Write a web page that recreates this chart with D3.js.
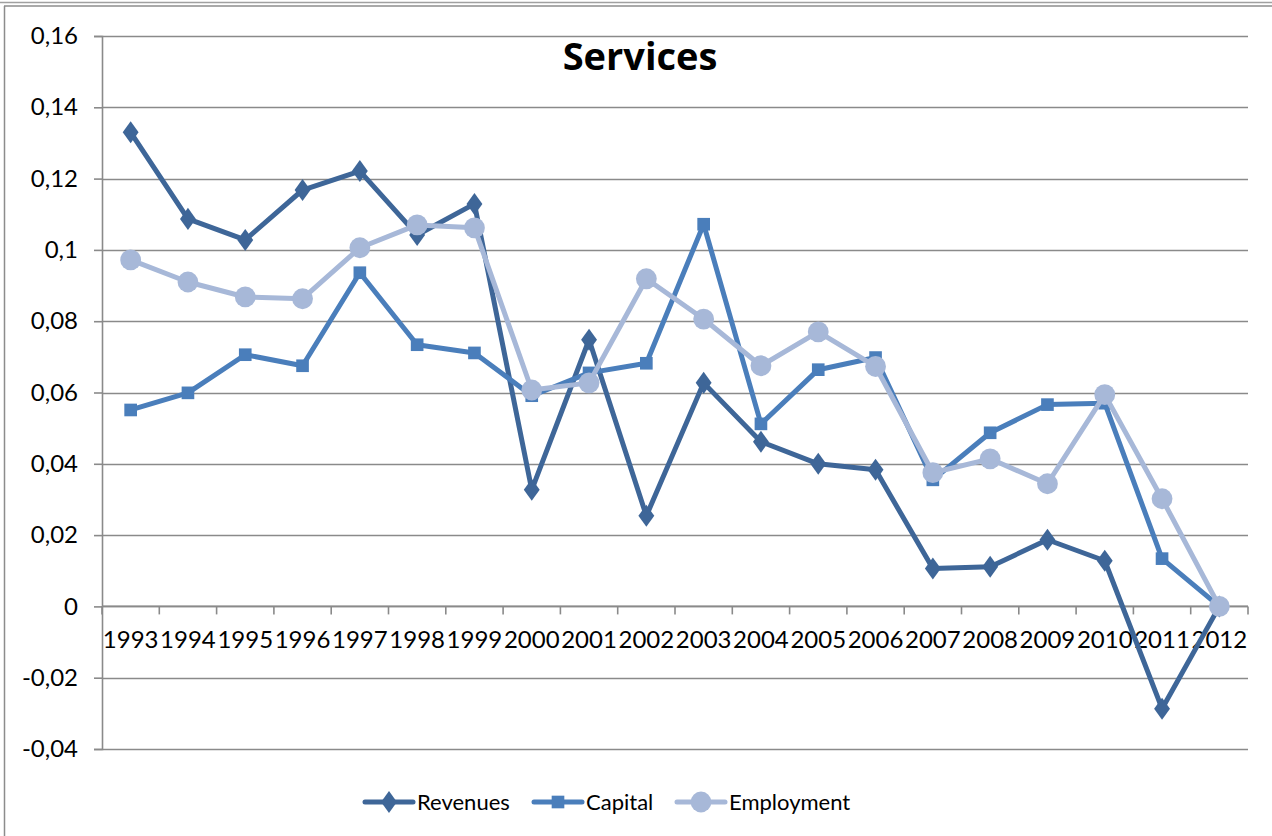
<!DOCTYPE html>
<html>
<head>
<meta charset="utf-8">
<script src="https://cdn.jsdelivr.net/npm/d3@7"></script>
<style>
  html, body { margin: 0; padding: 0; background: #fff; }
  svg { display: block; font-family: Lato, "Open Sans", sans-serif; }
</style>
</head>
<body>
<svg id="chart" width="1272" height="836"></svg>
<script>
// Yearly growth rates for the services sector
const years = ["1993","1994","1995","1996","1997","1998","1999","2000","2001","2002",
               "2003","2004","2005","2006","2007","2008","2009","2010","2011","2012"];
const revenues = [0.133, 0.1087, 0.1028, 0.1168, 0.1221, 0.1042, 0.1129, 0.0327, 0.0748, 0.0254,
                  0.0627, 0.0462, 0.0400, 0.0383, 0.0106, 0.0111, 0.0187, 0.0128, -0.0287, 0.0];
const capital = [0.0551, 0.0599, 0.0706, 0.0675, 0.0936, 0.0734, 0.0711, 0.0591, 0.0655, 0.0682,
                 0.1072, 0.0512, 0.0664, 0.0698, 0.0355, 0.0487, 0.0566, 0.0570, 0.0134, 0.0];
const employment = [0.0972, 0.0910, 0.0868, 0.0863, 0.1006, 0.1070, 0.1062, 0.0607, 0.0627, 0.0919,
                    0.0806, 0.0675, 0.0770, 0.0673, 0.0375, 0.0414, 0.0344, 0.0594, 0.0302, 0.0];
const yTicks = [-0.04, -0.02, 0, 0.02, 0.04, 0.06, 0.08, 0.10, 0.12, 0.14, 0.16];
const seriesNames = ["Revenues", "Capital", "Employment"];

const colors = { Revenues: "#3E6698", Capital: "#4A7EBB", Employment: "#A7B8D8" };

const svg = d3.select("#chart");
const W = 1272, H = 836;
const plot = { left: 102, right: 1248, top: 36, bottom: 749 };

// chart frame
svg.append("line").attr("x1", 0).attr("x2", W).attr("y1", 2.5).attr("y2", 2.5)
  .attr("stroke", "#a0a0a0").attr("stroke-width", 1.5);
svg.append("line").attr("x1", 4).attr("x2", W).attr("y1", 6).attr("y2", 6)
  .attr("stroke", "#8c8c8c").attr("stroke-width", 1.5);
svg.append("line").attr("x1", 4.5).attr("x2", 4.5).attr("y1", 6).attr("y2", H)
  .attr("stroke", "#8c8c8c").attr("stroke-width", 1.5);

const x = d3.scaleBand().domain(years).range([plot.left, plot.right]).padding(0);
const y = d3.scaleLinear().domain([-0.04, 0.16]).range([plot.bottom, plot.top]);

// decimal comma, plain hyphen for negatives, trailing zero dropped
const fmt = v => {
  if (Math.abs(v) < 1e-9) return "0";
  let s = Math.abs(v).toFixed(2).replace(/0$/, "").replace(".", ",");
  return (v < 0 ? "-" : "") + s;
};

// horizontal gridlines
svg.append("g").selectAll("line").data(yTicks).join("line")
  .attr("x1", plot.left).attr("x2", plot.right)
  .attr("y1", d => Math.round(y(d)) + 0.5).attr("y2", d => Math.round(y(d)) + 0.5)
  .attr("stroke", "#8a8a8a").attr("stroke-width", 1.6);

// y axis
const yAxis = d3.axisLeft(y).tickValues(yTicks).tickSize(8).tickPadding(16).tickFormat(fmt);
const gy = svg.append("g").attr("transform", `translate(${plot.left},0)`).call(yAxis);
gy.select(".domain").attr("stroke", "#8a8a8a").attr("stroke-width", 1.6);
gy.selectAll(".tick line").attr("stroke", "#8a8a8a").attr("stroke-width", 1.6);
gy.selectAll(".tick text").attr("fill", "#000").style("font-size", "24px")
  .style("font-family", "Lato, 'Open Sans', sans-serif");

// x axis along zero, ticks at category boundaries
const gx = svg.append("g").attr("transform", `translate(0,${y(0)})`);
gx.append("line").attr("x1", plot.left).attr("x2", plot.right).attr("y1", 0).attr("y2", 0)
  .attr("stroke", "#8a8a8a").attr("stroke-width", 1.6);
const bounds = years.map(d => x(d)).concat([plot.right]);
gx.selectAll("line.tk").data(bounds).join("line").attr("class", "tk")
  .attr("x1", d => d).attr("x2", d => d).attr("y1", 0).attr("y2", 8)
  .attr("stroke", "#8a8a8a").attr("stroke-width", 1.6);
gx.selectAll("text").data(years).join("text")
  .attr("x", d => x(d) + x.bandwidth() / 2).attr("y", 42)
  .attr("text-anchor", "middle").attr("fill", "#000")
  .style("font-size", "24px").text(d => d);

// series
const data = {
  Revenues: revenues,
  Capital: capital,
  Employment: employment
};
const cx = i => x(years[i]) + x.bandwidth() / 2;
const line = d3.line().x((d, i) => cx(i)).y(d => y(d));

const symbols = {
  Revenues: d3.symbol().type(d3.symbolDiamond).size(140),
  Capital: d3.symbol().type(d3.symbolSquare).size(160),
  Employment: d3.symbol().type(d3.symbolCircle).size(340)
};

seriesNames.forEach(name => {
  const g = svg.append("g");
  g.append("path").datum(data[name]).attr("d", line)
    .attr("fill", "none").attr("stroke", colors[name]).attr("stroke-width", 5)
    .attr("stroke-linejoin", "round");
  g.selectAll("path.m").data(data[name]).join("path").attr("class", "m")
    .attr("d", symbols[name])
    .attr("transform", (d, i) => `translate(${cx(i)},${y(d)})` + (name === "Revenues" ? " scale(1.25,1)" : ""))
    .attr("fill", colors[name]);
});

// title
svg.append("text").attr("x", 640).attr("y", 70).attr("text-anchor", "middle")
  .style("font-family", "'Open Sans', Lato, sans-serif")
  .style("font-size", "38px").style("font-weight", "bold").attr("fill", "#000")
  .text("Services");

// legend
const legendItems = [
  { name: "Revenues", x0: 365 },
  { name: "Capital", x0: 534 },
  { name: "Employment", x0: 677 }
];
const ly = 802;
const lg = svg.append("g");
legendItems.forEach(it => {
  lg.append("line").attr("x1", it.x0).attr("x2", it.x0 + 48).attr("y1", ly).attr("y2", ly)
    .attr("stroke", colors[it.name]).attr("stroke-width", 5).attr("stroke-linecap", "round");
  lg.append("path").attr("d", symbols[it.name])
    .attr("transform", `translate(${it.x0 + 24},${ly})` + (it.name === "Revenues" ? " scale(1.25,1)" : ""))
    .attr("fill", colors[it.name]);
  lg.append("text").attr("x", it.x0 + 52).attr("y", ly).attr("dy", "0.35em")
    .attr("fill", "#000").style("font-size", "22px").text(it.name);
});
</script>
</body>
</html>
